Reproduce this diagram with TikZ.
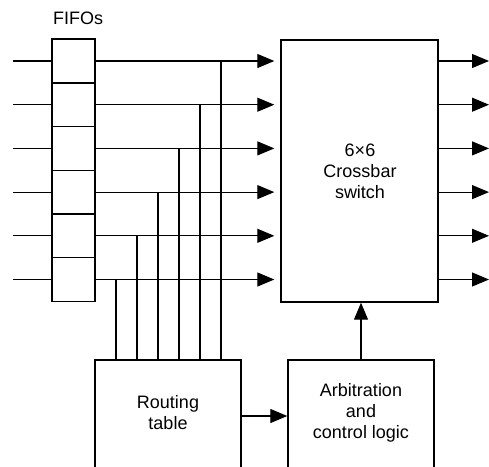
\documentclass[tikz,border=0pt]{standalone}
\usepackage{fontspec}
\setmainfont{Liberation Sans}
\usetikzlibrary{arrows.meta}
\begin{document}
\begin{tikzpicture}[x=1pt,y=-1pt,
  box/.style={draw,line width=1.4pt,fill=white,inner sep=0pt},
  cell/.style={draw,line width=1.4pt,fill=white,minimum width=43pt,minimum height=43.7pt,inner sep=0pt},
  wire/.style={line width=1.1pt},
  arr/.style={line width=1.1pt,-{Triangle[length=17pt,width=14pt]}},
  lbl/.style={font=\fontsize{18}{21}\selectfont,align=center,inner sep=0pt}]
\clip (0,0) rectangle (489,466);
\fill[white] (0,0) rectangle (489,466);
% FIFO cells
\foreach \i/\y in {1/61,2/104.7,3/148.4,4/192.1,5/235.8,6/279.5}{
  \node[cell] (f\i) at (73.5,\y) {};
  \coordinate (in\i) at (13,\y);
  \coordinate (out\i) at (489,\y);
}
\node[lbl] (fifolbl) at (78,18) {FIFOs};
% crossbar
\node[box,minimum width=157pt,minimum height=262pt] (cross) at (359.5,171) {};
\node[lbl] (crosslbl) at (360,171) {6×6\\Crossbar\\switch};
% routing table and arbitration
\node[box,minimum width=146pt,minimum height=112pt] (rout) at (168,416) {};
\node[lbl] (routlbl) at (168,413) {Routing\\table};
\node[box,minimum width=146pt,minimum height=112pt] (arb) at (361,416) {};
\node[lbl] (arblbl) at (361,413) {Arbitration\\and\\control logic};
% inputs, outputs
\foreach \i in {1,...,6}{
  \draw[wire] (in\i) -- (f\i.west);
  \draw[arr,shorten >=6pt] (f\i.east) -- (f\i.east -| cross.west);
  \draw[arr] (f\i.east -| cross.east) -- (out\i);
}
% taps to routing table
\foreach \i/\x in {1/221,2/200,3/179,4/158,5/137,6/116}{
  \coordinate (tap\i) at (\x,0 |- f\i.east);
  \draw[wire] (\x,0 |- f\i.east) -- (\x,0 |- rout.north);
}
\draw[arr] (rout.east) -- (arb.west);
\draw[arr] (arb.north) -- (arb.north |- cross.south);
\end{tikzpicture}
\end{document}
